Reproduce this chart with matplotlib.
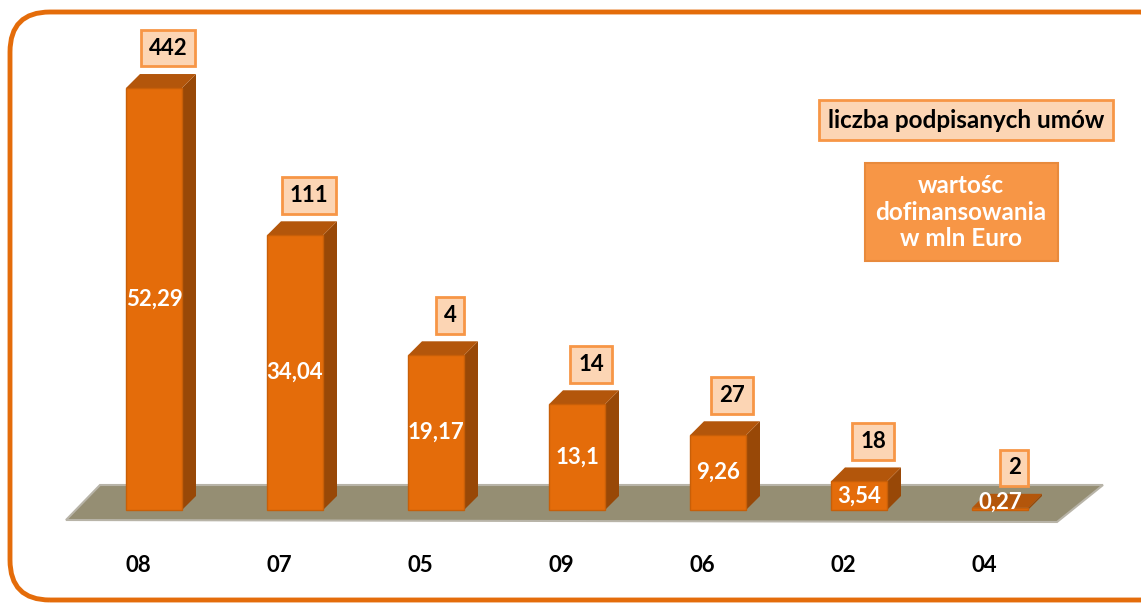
import matplotlib.pyplot as plt
from matplotlib.patches import Polygon, FancyBboxPatch

plt.rcParams['font.family'] = ['Lato', 'DejaVu Sans']

kategorie = ['08', '07', '05', '09', '06', '02', '04']
wartosc = [52.29, 34.04, 19.17, 13.1, 9.26, 3.54, 0.27]
liczba_umow = [442, 111, 4, 14, 27, 18, 2]
etykiety_wartosci = ['52,29', '34,04', '19,17', '13,1', '9,26', '3,54', '0,27']

POMARANCZ = '#E46C0A'
BOK = '#984807'
GORA = '#B3560B'
BRZOSKWINIA = '#FCD5B4'
RAMKA = '#F79646'

W, H = 1141, 603
fig = plt.figure(figsize=(W / 100, H / 100), dpi=100)
ax = fig.add_axes([0, 0, 1, 1])
px_x = 141.0   # pikseli na kategorie
px_y = 8.07    # pikseli na jednostke
x0, y0 = 154, 510
ax.set_xlim(-x0 / px_x, (W - x0) / px_x)
ax.set_ylim(-(H - y0) / px_y, y0 / px_y)
ax.axis('off')

# podloga
podloga = [(-(154 - 66) / px_x, -10 / px_y), (-(154 - 100) / px_x, 25 / px_y),
           ((1103 - 154) / px_x, 25 / px_y), ((1057 - 154) / px_x, -12 / px_y)]
ax.add_patch(Polygon(podloga, closed=True, facecolor='#958E73', edgecolor='#B8B4A8', lw=1.5, zorder=1))

szer = 56 / px_x
dx = 14 / px_x
dy = 14 / px_y
xs = list(range(len(kategorie)))
ax.bar(xs, wartosc, width=szer, color=POMARANCZ, edgecolor='#C85F08', lw=1, zorder=4)
for i, v in zip(xs, wartosc):
    l, r = i - szer / 2, i + szer / 2
    ax.add_patch(Polygon([(r, 0), (r + dx, dy), (r + dx, v + dy), (r, v)],
                         closed=True, facecolor=BOK, edgecolor='none', zorder=3))
    ax.add_patch(Polygon([(l, v), (l + dx, v + dy), (r + dx, v + dy), (r, v)],
                         closed=True, facecolor=GORA, edgecolor='none', zorder=3))

for i, v, t in zip(xs, wartosc, etykiety_wartosci):
    ax.text(i, max(v / 2, 1.0), t, ha='center', va='center', color='white',
            fontsize=16, fontweight='bold', zorder=6)

for i, v, n in zip(xs, wartosc, liczba_umow):
    ax.text(i + 0.1, v + 40 / px_y, str(n), ha='center', va='center', color='black',
            fontsize=16, fontweight='bold', zorder=6,
            bbox=dict(boxstyle='square,pad=0.35', facecolor=BRZOSKWINIA, edgecolor=RAMKA, lw=2))

for i, k in zip(xs, kategorie):
    ax.text(i - 0.11, -55 / px_y, k, ha='center', va='center', color='black',
            fontsize=16, fontweight='bold')

# legenda
fig.text(966 / W, 1 - 120 / H, 'liczba podpisanych umów', ha='center', va='center',
         fontsize=17.5, fontweight='bold', color='black',
         bbox=dict(boxstyle='square,pad=0.35', facecolor=BRZOSKWINIA, edgecolor=RAMKA, lw=2))
fig.text(961 / W, 1 - 212 / H, 'wartośc\ndofinansowania\nw mln Euro', ha='center', va='center',
         fontsize=17.5, fontweight='bold', color='white', linespacing=1.2,
         bbox=dict(boxstyle='square,pad=0.45', facecolor=RAMKA, edgecolor='#E88A3C', lw=1.5))

# ramka wykresu
fig.patches.append(FancyBboxPatch((10 / W, 3 / H), 1170 / W, 588 / H,
                                  boxstyle='round,pad=0,rounding_size=0.035',
                                  transform=fig.transFigure, facecolor='none',
                                  edgecolor=POMARANCZ, lw=3.5, mutation_aspect=W / H))

fig.savefig('out.png', dpi=100)
